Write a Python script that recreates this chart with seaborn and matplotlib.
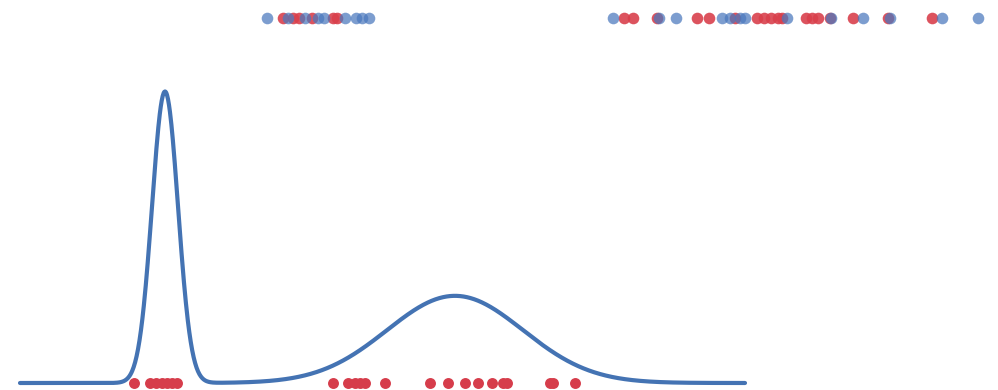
import numpy as np
import pandas as pd
import matplotlib
matplotlib.use("Agg")
import matplotlib.pyplot as plt
import seaborn as sns

# Two-component Gaussian mixture shown as the density curve
COMPONENT_MEANS = [165.0, 455.0]
COMPONENT_SDS = [13.0, 68.0]
COMPONENT_WEIGHTS = [0.39, 0.61]
CURVE_RANGE = (20.0, 745.0)

# Observed samples along the baseline
samples = [134, 150, 156, 162, 167, 172, 177,
           333, 348, 355, 360, 365, 385, 430, 448, 465, 478, 492, 503, 507,
           550, 553, 575]

# Points in the upper strip, two groups
top_red = [283, 293, 299, 312, 333, 337,
           624, 633, 657, 697, 709, 735, 757, 764, 771, 778, 782,
           806, 812, 818, 830, 853, 888, 932]
top_blue = [267, 288, 305, 318, 324, 345, 356, 362, 369,
            613, 659, 676, 722, 730, 740, 745, 787,
            831, 863, 890, 942, 978]

BLUE = "#4473b3"
RED = "#d63d4b"

sns.set_theme(style="white")

x = np.linspace(*CURVE_RANGE, 1500)
dens = np.zeros_like(x)
for m, s, w in zip(COMPONENT_MEANS, COMPONENT_SDS, COMPONENT_WEIGHTS):
    dens += w * np.exp(-0.5 * ((x - m) / s) ** 2) / (s * np.sqrt(2 * np.pi))
curve = pd.DataFrame({"x": x, "density": dens})

W, H = 998, 390
fig = plt.figure(figsize=(W / 100, H / 100), dpi=100)

# Main panel: density curve with the sample rug on its baseline
base_px, top_px = 383.0, 60.0
ax = fig.add_axes([0, (H - base_px) / H, 1, (base_px - top_px) / H])
peak = dens.max()
ax.set_xlim(0, W)
ax.set_ylim(0, peak * (base_px - top_px) / 291.5)
sns.lineplot(data=curve, x="x", y="density", ax=ax, color=BLUE,
             linewidth=3.0, solid_capstyle="round")
for ln in ax.lines:
    ln.set_clip_on(False)
sns.scatterplot(x=samples, y=np.zeros(len(samples)), ax=ax, color=RED,
                s=62, linewidth=0, zorder=3, clip_on=False)
ax.set_axis_off()

# Upper strip of points
ax2 = fig.add_axes([0, (H - 35) / H, 1, 35 / H])
ax2.set_xlim(0, W)
ax2.set_ylim(-1, 1)
sns.scatterplot(x=top_red, y=np.zeros(len(top_red)), ax=ax2, color="#d9404c",
                s=70, linewidth=0, alpha=0.9, clip_on=False)
sns.scatterplot(x=top_blue, y=np.zeros(len(top_blue)), ax=ax2, color="#4a78bd",
                s=70, linewidth=0, alpha=0.72, clip_on=False)
ax2.set_axis_off()

fig.savefig("out.png", dpi=100)
